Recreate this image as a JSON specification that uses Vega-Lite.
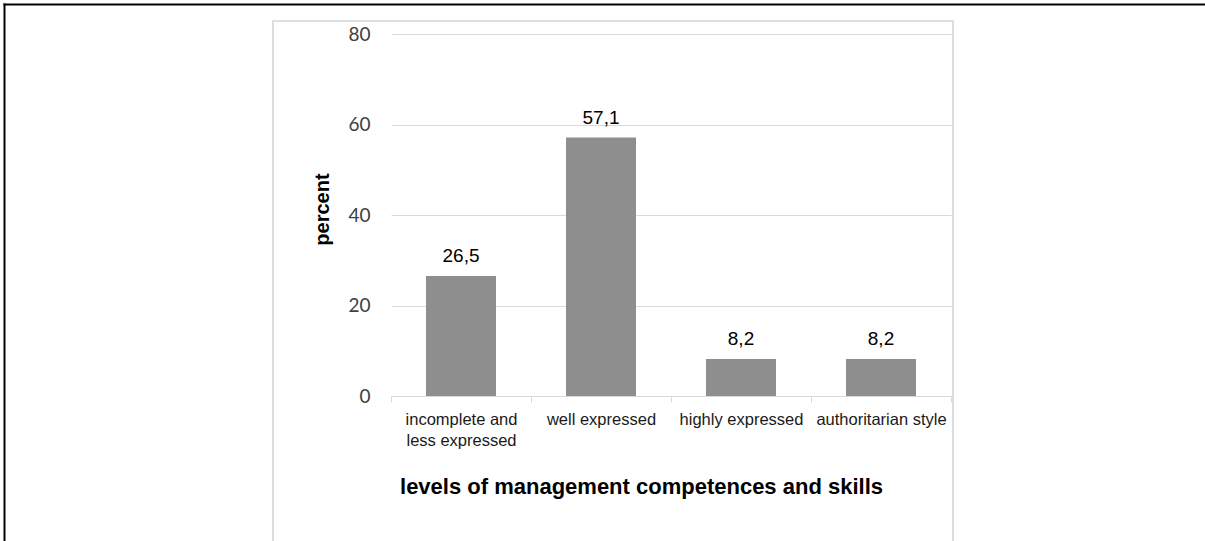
{
  "$schema": "https://vega.github.io/schema/vega-lite/v6.json",
  "autosize": {"type": "none"},
  "padding": {"left": 273, "top": 21, "right": 252, "bottom": 0},
  "width": 680,
  "height": 540,
  "background": "white",
  "config": {"view": {"stroke": "#d4d4d4", "strokeWidth": 1.5}},
  "data": {"values": [
    {"level": "incomplete and less expressed", "pct": 26.5, "label": "26,5"},
    {"level": "well expressed", "pct": 57.1, "label": "57,1"},
    {"level": "highly expressed", "pct": 8.2, "label": "8,2"},
    {"level": "authoritarian style", "pct": 8.2, "label": "8,2"}
  ]},
  "resolve": {"scale": {"x": "independent", "y": "independent"}, "axis": {"x": "independent", "y": "independent"}},
  "layer": [
    {
      "encoding": {
        "x": {"field": "level", "type": "nominal", "sort": null,
          "scale": {"range": [118, 678], "paddingInner": 0, "paddingOuter": 0},
          "axis": {"orient": "bottom", "offset": -165, "tickBand": "extent",
            "domainColor": "#d9d9d9", "domainWidth": 1, "tickColor": "#d9d9d9", "tickSize": 6,
            "labelAngle": 0, "labelFont": "Liberation Sans", "labelFontSize": 16.5, "labelColor": "#1a1a1a",
            "labelPadding": 9, "labelLineHeight": 21, "labelLimit": 0,
            "labelExpr": "datum.value == 'incomplete and less expressed' ? ['incomplete and', 'less expressed'] : datum.value",
            "title": "levels of management competences and skills",
            "titleFont": "Liberation Sans", "titleFontSize": 22, "titleFontWeight": "bold", "titleColor": "#000000",
            "titleX": 368, "titleY": 97, "titleBaseline": "alphabetic", "titleAlign": "center", "grid": false}},
        "y": {"field": "pct", "type": "quantitative",
          "scale": {"domain": [0, 80], "range": [375, 13], "nice": false},
          "axis": {"offset": -118, "values": [0, 20, 40, 60, 80], "domain": false, "ticks": false, "tickSize": 0,
            "grid": true, "gridColor": "#d9d9d9", "gridWidth": 1,
            "labelFont": "Lato", "labelFontSize": 19, "labelColor": "#404040", "labelPadding": 21,
            "title": "percent", "titleFont": "Liberation Sans", "titleFontSize": 20, "titleFontWeight": "bold",
            "titleColor": "#000000", "titleAngle": -90, "titleX": -63, "titleY": 188,
            "titleBaseline": "alphabetic", "titleAlign": "center"}}
      },
      "layer": [
        {"mark": {"type": "bar", "color": "#8e8e8e", "width": {"band": 0.5}}},
        {"mark": {"type": "text", "baseline": "alphabetic", "dy": -14, "font": "Liberation Sans", "fontSize": 19, "color": "#000000"},
          "encoding": {"text": {"field": "label"}}}
      ]
    },
    {
      "mark": {"type": "point", "opacity": 0},
      "encoding": {
        "x": {"field": "pct", "type": "quantitative", "scale": {"range": [-270, 960], "zero": true},
          "axis": {"orient": "top", "offset": 17, "domainColor": "#000000", "domainWidth": 2, "labels": false, "ticks": false, "grid": false, "title": null}},
        "y": {"field": "pct", "type": "quantitative", "scale": {"range": [-18, 540]},
          "axis": {"orient": "left", "offset": 269, "domainColor": "#000000", "domainWidth": 2, "labels": false, "ticks": false, "grid": false, "title": null}}
      }
    }
  ]
}
